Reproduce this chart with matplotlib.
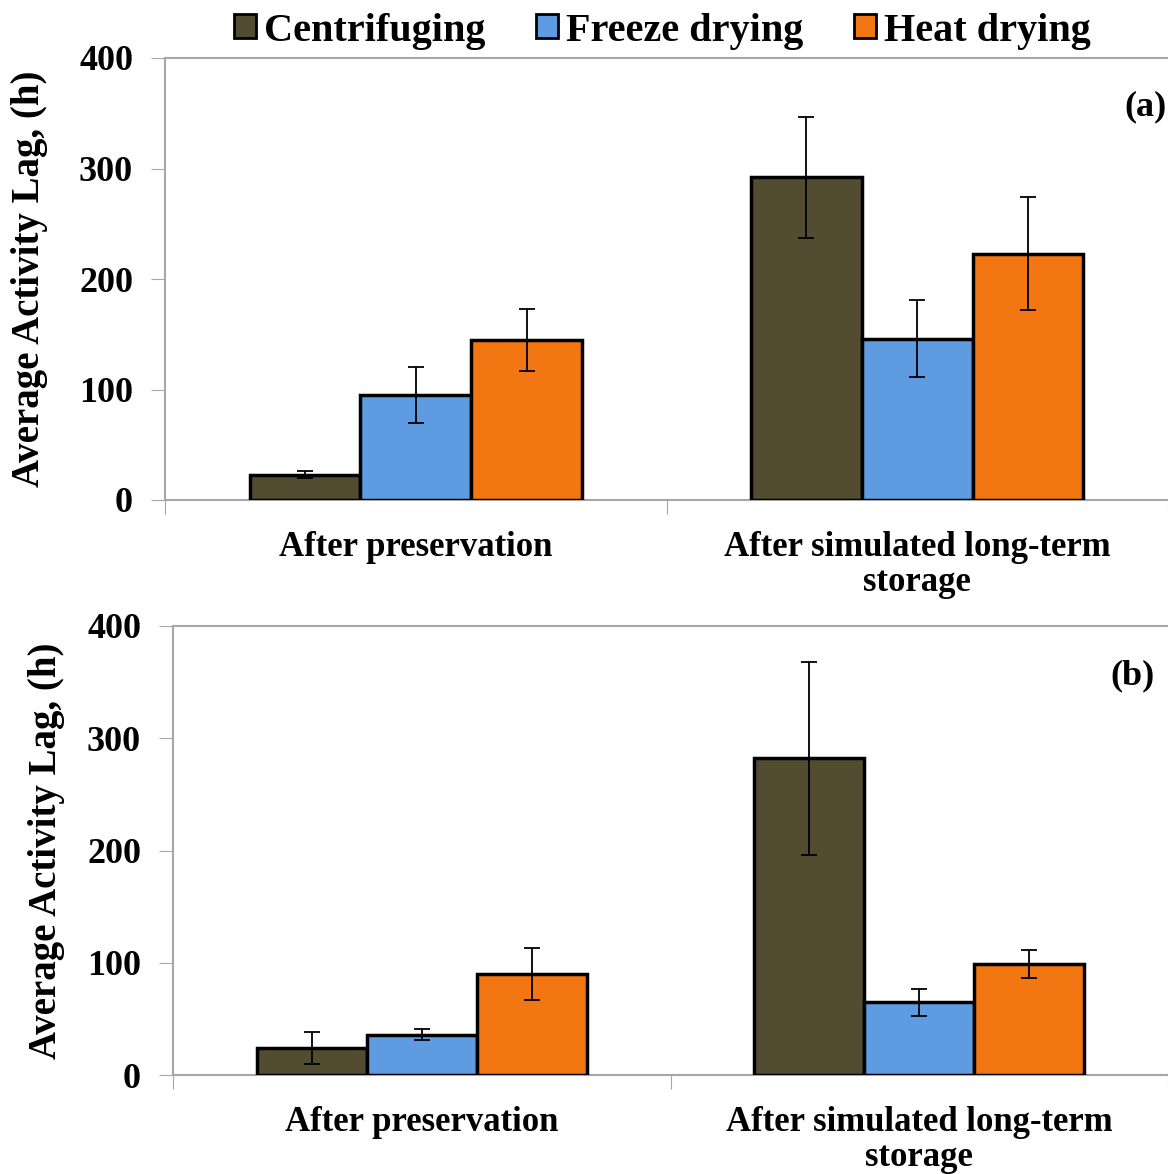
import numpy as np
import matplotlib

matplotlib.use("Agg")
import matplotlib.pyplot as plt
from matplotlib.patches import Patch

# data
groups = ["After preservation", "After simulated long-term\nstorage"]
methods = ["Centrifuging", "Freeze drying", "Heat drying"]

a_mean = {
    "Centrifuging": [23, 292],
    "Freeze drying": [95, 146],
    "Heat drying": [145, 223],
}
a_err = {
    "Centrifuging": [3.5, 55],
    "Freeze drying": [25, 35],
    "Heat drying": [28, 51],
}
b_mean = {
    "Centrifuging": [24, 282],
    "Freeze drying": [36, 65],
    "Heat drying": [90, 99],
}
b_err = {
    "Centrifuging": [14.5, 86],
    "Freeze drying": [5, 12],
    "Heat drying": [23, 12.5],
}
yticks = [0, 100, 200, 300, 400]

colors = {
    "Centrifuging": "#524C31",
    "Freeze drying": "#5E9BE0",
    "Heat drying": "#F27612",
}

plt.rcParams["font.family"] = ["Liberation Serif", "DejaVu Serif"]
plt.rcParams["font.weight"] = "bold"

fig = plt.figure(figsize=(11.68, 11.74), dpi=100)
ax_a = fig.add_axes([165 / 1168, 1 - 500 / 1174, 1 - 165 / 1168, 442 / 1174])
ax_b = fig.add_axes([173 / 1168, 1 - 1075 / 1174, 1 - 173 / 1168, 449 / 1174])

grey = "#A6A6A6"
width = 0.221
centers = np.arange(len(groups)) + 0.5


def draw_panel(ax, means, errs, tag, ylab_x, tag_x):
    for i, m in enumerate(methods):
        x = centers + (i - 1) * width
        ax.bar(x, means[m], width=width, color=colors[m], edgecolor="black",
               linewidth=2.5, zorder=3)
        ax.errorbar(x, means[m], yerr=errs[m], fmt="none", ecolor="black",
                    elinewidth=1.3, capsize=6, capthick=1.3, zorder=4)
    ax.set_xlim(0, 2)
    ax.set_ylim(0, 400)
    ax.set_yticks(yticks)
    ax.set_yticklabels([str(t) for t in yticks], fontsize=26, fontweight="bold")
    ax.set_xticks([0, 1, 2])
    ax.set_xticklabels([])
    ax.set_xticks(centers, minor=True)
    ax.set_xticklabels(groups, minor=True, fontsize=25, fontweight="bold",
                       linespacing=1.1)
    ax.tick_params(axis="x", which="minor", length=0, pad=22)
    ax.tick_params(axis="x", which="major", length=10, color=grey, direction="out")
    ax.tick_params(axis="y", length=10, color=grey, direction="out", pad=13)
    for s in ["top", "right"]:
        ax.spines[s].set_visible(False)
    for s in ["left", "bottom"]:
        ax.spines[s].set_color(grey)
        ax.spines[s].set_linewidth(1.5)
    ax.axhline(400, color=grey, linewidth=1.5, zorder=1, clip_on=False)
    ax.set_ylabel("Average Activity Lag, (h)", fontsize=28, fontweight="bold")
    ax.yaxis.set_label_coords(ylab_x, 0.5)
    ax.text(tag_x, 0.89, tag, transform=ax.transAxes, fontsize=26,
            fontweight="bold", ha="center", va="center")


# label offsets in axes fraction (from the figure pixel positions)
draw_panel(ax_a, a_mean, a_err, "(a)", (48 - 165) / 1003, (1145 - 165) / 1003)
draw_panel(ax_b, b_mean, b_err, "(b)", (65 - 173) / 995, (1132 - 173) / 995)

handles = [Patch(facecolor=colors[m], edgecolor="black", linewidth=2) for m in methods]
fig.legend(handles, methods, loc="center", bbox_to_anchor=(0.567, 1 - 31 / 1174),
           ncol=3, frameon=False, handlelength=0.55, handleheight=0.55,
           handletextpad=0.2, columnspacing=1.25,
           prop={"size": 29, "weight": "bold"})

fig.savefig("out.png", dpi=100)
